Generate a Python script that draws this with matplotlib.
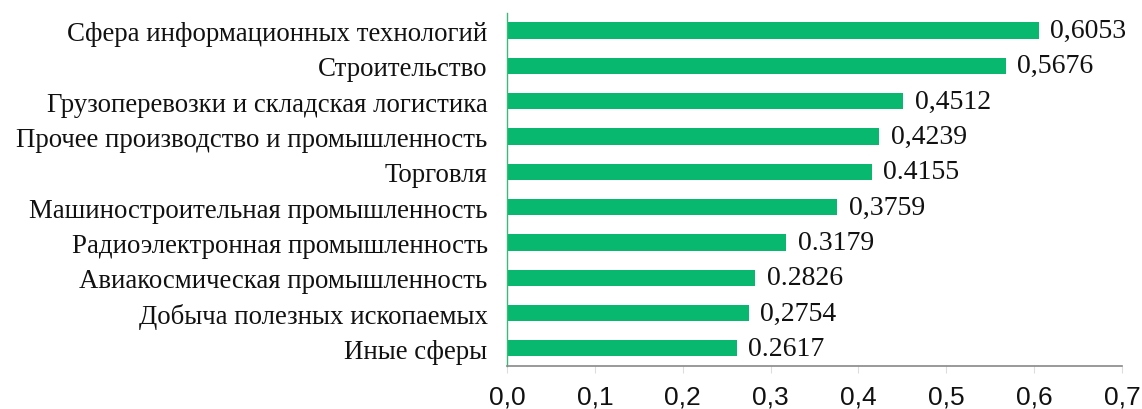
import matplotlib.pyplot as plt
import numpy as np

categories = [
    "Сфера информационных технологий",
    "Строительство",
    "Грузоперевозки и складская логистика",
    "Прочее производство и промышленность",
    "Торговля",
    "Машиностроительная промышленность",
    "Радиоэлектронная промышленность",
    "Авиакосмическая промышленность",
    "Добыча полезных ископаемых",
    "Иные сферы",
]
values = [0.6053, 0.5676, 0.4512, 0.4239, 0.4155, 0.3759, 0.3179, 0.2826, 0.2754, 0.2617]
value_labels = ["0,6053", "0,5676", "0,4512", "0,4239", "0.4155",
                "0,3759", "0.3179", "0.2826", "0,2754", "0.2617"]
xticks = [0.0, 0.1, 0.2, 0.3, 0.4, 0.5, 0.6, 0.7]
xtick_labels = ["0,0", "0,1", "0,2", "0,3", "0,4", "0,5", "0,6", "0,7"]

fig = plt.figure(figsize=(11.42, 4.10), dpi=100)
ax = fig.add_axes([0.444, 0.105, 0.5385, 0.861])

y = np.arange(len(categories))
ax.barh(y, values, height=0.46, color="#08b86e")
for yi, v, lab in zip(y, values, value_labels):
    ax.text(v + 0.013, yi, lab, va="center", ha="left",
            family="Liberation Serif", fontsize=20, color="#111111")

ax.set_ylim(len(categories) - 0.5, -0.5)
ax.set_xlim(0, 0.7)
ax.set_yticks(y)
ax.set_yticklabels(categories, family="Liberation Serif", fontsize=19.4, color="#111111")
ax.set_xticks(xticks)
ax.set_xticklabels(xtick_labels, family="Liberation Sans", fontsize=19, color="#111111")
ax.tick_params(axis="y", length=0, pad=14)
ax.tick_params(axis="x", length=5, color="#dddddd", pad=8)

for s in ["top", "right"]:
    ax.spines[s].set_visible(False)
ax.spines["left"].set_color("#3cb878")
ax.spines["left"].set_linewidth(1.0)
ax.spines["bottom"].set_color("#888888")
ax.spines["bottom"].set_linewidth(1.2)

fig.savefig("out.png", dpi=100)
